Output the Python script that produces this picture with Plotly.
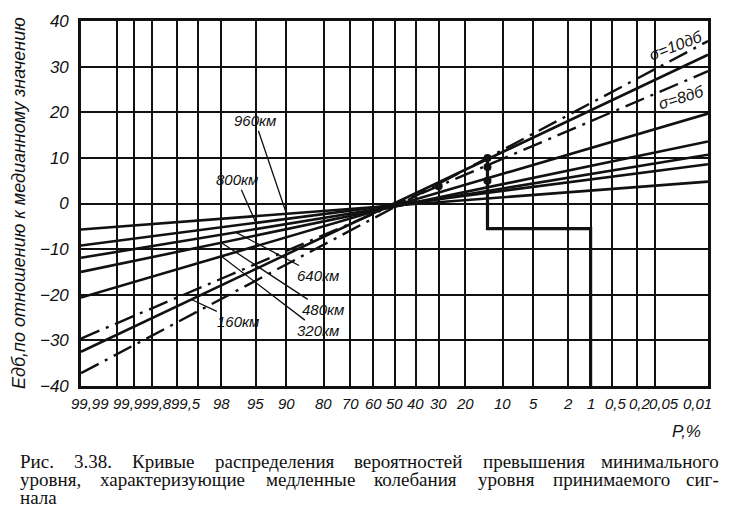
import plotly.graph_objects as go
from statistics import NormalDist

# ---------------- data ----------------
# vertical grid lines (exceedance probability, %)
grid_P = [99.95, 99.9, 99.8, 99.5, 99, 98, 95, 90, 80, 70, 60, 50, 40, 30, 20, 10, 5, 2, 1, 0.5, 0.2, 0.1]
# x tick labels
label_P = [99.99, 99.9, 99.8, 99.5, 98, 95, 90, 80, 70, 60, 50, 40, 30, 20, 10, 5, 2, 1, 0.5, 0.2, 0.05, 0.01]
label_txt = ["99,99", "99,9", "99,8", "99,5", "98", "95", "90", "80", "70", "60", "50", "40", "30", "20",
             "10", "5", "2", "1", "0,5", "0,2", "0,05", "0,01"]
y_ticks = [-40, -30, -20, -10, 0, 10, 20, 30, 40]

# straight distribution lines: values (dB) at P = 99.99 % and P = 0.01 %
end_P = [99.99, 0.01]
dist_names = ["960км", "800км", "640км", "480км", "320км", "160км"]
dist_left = [-5.7, -9.2, -11.9, -15.0, -20.6, -32.5]
dist_right = [4.8, 8.6, 10.7, 13.6, 19.7, 32.6]
# probability at which each label's leader touches its line
dist_anchor_P = [90, 95, 97, 98, 98, 99.2]

sigma_names = ["σ=10дб", "σ=8дб"]
sigma_left = [-37.2, -29.6]
sigma_right = [35.6, 29.0]

# thick marker path and dots
step_P = [13.5, 13.5, 1, 1]
step_db = [10.5, -5.5, -5.5, -40]
dot_P = [13.5, 13.5, 13.5, 30]
dot_db = [10.0, 8.0, 5.0, 3.8]

caption_lines = [
    "Рис. 3.38. Кривые распределения вероятностей превышения минимального",
    "уровня, характеризующие медленные колебания уровня принимаемого сиг-",
    "нала",
]

# ---------------- helpers ----------------
nd = NormalDist()


def zq(p):
    return nd.inv_cdf(1 - p / 100.0)


ZMIN, ZMAX = zq(99.99), zq(0.01)
X0, X1, Y0, Y1 = 81, 708, 15, 386  # plot area in pixels
W, H = 744, 521


def xpx(z):
    return X0 + (z - ZMIN) / (ZMAX - ZMIN) * (X1 - X0)


def ypx(v):
    return Y0 + (40 - v) / 80.0 * (Y1 - Y0)


def paper_x(px):
    return (px - X0) / (X1 - X0)


def paper_y(py):
    return (Y1 - py) / (Y1 - Y0)


def line_val(left, right, z):
    return left + (right - left) * (z - ZMIN) / (ZMAX - ZMIN)


SANS = "Liberation Sans, Arial, sans-serif"
SERIF = "Liberation Serif, Times New Roman, serif"
ink = "#111111"

fig = go.Figure()
zx = [zq(p) for p in end_P]

for name, l, r in zip(dist_names, dist_left, dist_right):
    fig.add_trace(go.Scatter(x=zx, y=[l, r], mode="lines", name=name,
                             line=dict(color=ink, width=2.6), showlegend=False, hoverinfo="skip"))

for name, l, r in zip(sigma_names, sigma_left, sigma_right):
    fig.add_trace(go.Scatter(x=zx, y=[l, r], mode="lines", name=name,
                             line=dict(color=ink, width=2.4, dash="20px,7px,3px,7px"),
                             showlegend=False, hoverinfo="skip"))

fig.add_trace(go.Scatter(x=[zq(p) for p in step_P], y=step_db, mode="lines",
                         line=dict(color=ink, width=3.2), showlegend=False, hoverinfo="skip"))
fig.add_trace(go.Scatter(x=[zq(p) for p in dot_P], y=dot_db, mode="markers",
                         marker=dict(color=ink, size=8), showlegend=False, hoverinfo="skip"))

# ---------------- annotations ----------------
ann = []

# x tick labels (a few nudged apart where the scale is crowded)
label_shift = {"99,99": 9, "99,9": -6, "99,8": 5, "99,5": 9, "0,5": 4, "0,2": 3, "0,05": -8, "0,01": -11}
for p, t in zip(label_P, label_txt):
    ann.append(dict(x=zq(p), y=paper_y(404), xref="x", yref="paper", text=t, showarrow=False,
                    xanchor="center", yanchor="middle", xshift=label_shift.get(t, 0),
                    font=dict(family=SANS, size=15, color=ink, style="italic")))

label_pos = {  # label centre positions, pixels
    "960км": (255, 118), "800км": (237, 177), "640км": (318, 273),
    "480км": (323, 307), "320км": (318, 328), "160км": (238, 320),
}
for name, l, r, p in zip(dist_names, dist_left, dist_right, dist_anchor_P):
    z = zq(p)
    v = line_val(l, r, z)
    lx, ly = label_pos[name]
    ann.append(dict(x=z, y=v, xref="x", yref="y", text=name, showarrow=True,
                    arrowhead=0, arrowwidth=1.3, arrowcolor=ink, standoff=0,
                    ax=lx - xpx(z), ay=ly - ypx(v),
                    font=dict(family=SANS, size=15, color=ink, style="italic")))

sigma_pos = {"σ=10дб": (676, 40, -21), "σ=8дб": (681, 93, -17)}
for name in sigma_names:
    px, py, ang = sigma_pos[name]
    ann.append(dict(x=paper_x(px), y=paper_y(py), xref="paper", yref="paper", text=name,
                    showarrow=False, textangle=ang, xanchor="center", yanchor="middle",
                    font=dict(family=SANS, size=16, color=ink, style="italic")))

ann.append(dict(x=paper_x(19), y=paper_y(200), xref="paper", yref="paper",
                text="Eдб,по отношению к медианному значению", textangle=-90, showarrow=False,
                xanchor="center", yanchor="middle",
                font=dict(family=SANS, size=18, color=ink, style="italic")))
ann.append(dict(x=paper_x(686), y=paper_y(432), xref="paper", yref="paper", text="P,%",
                showarrow=False, xanchor="center", yanchor="middle",
                font=dict(family=SANS, size=17, color=ink, style="italic")))

# caption, justified word by word (Times-like advance widths, per 1 em)
CW = {"а": .444, "б": .509, "в": .472, "г": .410, "д": .509, "е": .444, "ж": .691, "з": .395,
      "и": .535, "й": .535, "к": .486, "л": .499, "м": .633, "н": .535, "о": .5, "п": .535,
      "р": .5, "с": .444, "т": .437, "у": .5, "ф": .648, "х": .5, "ц": .535, "ч": .503,
      "ш": .770, "щ": .770, "ъ": .517, "ы": .672, "ь": .456, "э": .429, "ю": .747, "я": .460,
      "Р": .556, "К": .667, ".": .25, ",": .25, "-": .333}
CAP_SIZE = 19
CAP_LEFT, CAP_RIGHT = 18, 721


def word_w(w):
    return sum(CW.get(c, .5) for c in w) * CAP_SIZE


for i, line in enumerate(caption_lines):
    py = 463 + 18 * i
    words = line.split()
    capfont = dict(family=SERIF, size=CAP_SIZE, color=ink)
    if i == len(caption_lines) - 1 or len(words) == 1:
        ann.append(dict(x=paper_x(CAP_LEFT), y=paper_y(py), xref="paper", yref="paper", text=line,
                        showarrow=False, xanchor="left", yanchor="middle", font=capfont))
        continue
    widths = [word_w(w) for w in words]
    gap = (CAP_RIGHT - CAP_LEFT - sum(widths)) / (len(words) - 1)
    x = CAP_LEFT
    for j, (w, wd) in enumerate(zip(words, widths)):
        if j == len(words) - 1:
            ann.append(dict(x=paper_x(CAP_RIGHT), y=paper_y(py), xref="paper", yref="paper", text=w,
                            showarrow=False, xanchor="right", yanchor="middle", font=capfont))
        else:
            ann.append(dict(x=paper_x(x), y=paper_y(py), xref="paper", yref="paper", text=w,
                            showarrow=False, xanchor="left", yanchor="middle", font=capfont))
        x += wd + gap

fig.update_layout(
    width=W, height=H,
    margin=dict(l=X0, r=W - X1, t=Y0, b=H - Y1),
    paper_bgcolor="white", plot_bgcolor="white",
    xaxis=dict(range=[ZMIN, ZMAX], tickvals=[zq(p) for p in grid_P], showticklabels=False,
               ticks="", showgrid=True, gridcolor=ink, gridwidth=1.6, zeroline=False,
               showline=True, linecolor=ink, linewidth=2.6, mirror=True),
    yaxis=dict(range=[-40, 40], tickvals=y_ticks, ticks="", showgrid=True, gridcolor=ink,
               gridwidth=1.6, zeroline=False, showline=True, linecolor=ink, linewidth=2.6,
               mirror=True, ticklabelstandoff=6,
               tickfont=dict(family=SANS, size=17, color=ink, style="italic")),
    annotations=ann,
)

fig.write_html("out.html", config={"displayModeBar": False},
               post_script="document.body.style.margin='0';")
